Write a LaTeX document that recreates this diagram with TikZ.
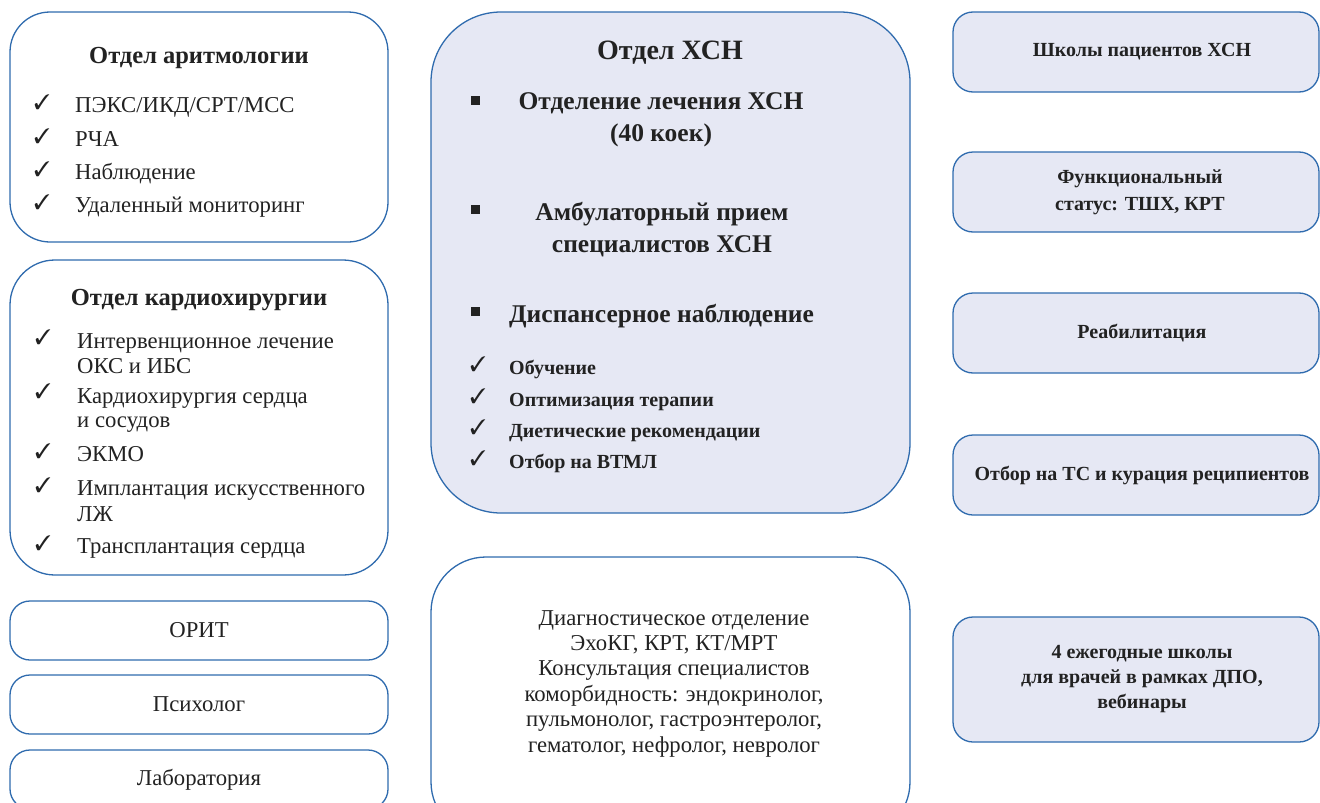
\documentclass[tikz,border=0pt]{standalone}
\usepackage{fontspec}
\setmainfont{Liberation Serif}
\usepackage{pifont}

\definecolor{boxblue}{HTML}{2F6BAE}
\definecolor{boxfill}{HTML}{E6E8F4}
\definecolor{ink}{HTML}{222222}

\tikzset{
  panel/.style={draw=boxblue, line width=1.3pt, fill=white, inner sep=0pt},
  xsnpanel/.style={panel, fill=boxfill},
  sidebox/.style={xsnpanel, rounded corners=20pt, minimum width=366pt, minimum height=80pt},
  sidetext/.style={inner sep=0pt, align=center, font=\fontsize{20}{27}\selectfont\bfseries},
  smallbox/.style={panel, rounded corners=20pt, minimum width=378pt, minimum height=59pt,
    font=\fontsize{22.7}{26}\selectfont},
  title/.style={anchor=base, inner sep=0pt, font=\fontsize{24.5}{28}\selectfont\bfseries},
  entry/.style={anchor=base west, inner sep=0pt, font=\fontsize{22.7}{26}\selectfont},
  xsnhead/.style={anchor=base, inner sep=0pt, align=center, font=\fontsize{25.5}{32}\selectfont\bfseries},
  xsnentry/.style={anchor=base west, inner sep=0pt, font=\fontsize{20}{24}\selectfont\bfseries},
  tick/.style={anchor=base west, inner sep=0pt, font=\fontsize{21}{21}\selectfont},
  sqbullet/.style={fill=ink, minimum size=9pt, inner sep=0pt}
}

\begin{document}
\begin{tikzpicture}[x={(1pt,0)}, y={(0,-1pt)}, text=ink]
 \clip (0,0) rectangle (1320,803);

 % left column
 \node[panel, rounded corners=40pt, minimum width=378pt, minimum height=230pt] (arit) at (199,127) {};
 \node[title] (arit-t) at (199,63) {Отдел аритмологии};
 \node[tick] (arit-c1) at (34,109) {\ding{51}};
 \node[entry] (arit-1) at (75,112) {ПЭКС/ИКД/СРТ/МСС};
 \node[tick] (arit-c2) at (34,143) {\ding{51}};
 \node[entry] (arit-2) at (75,146) {РЧА};
 \node[tick] (arit-c3) at (34,176) {\ding{51}};
 \node[entry] (arit-3) at (75,179) {Наблюдение};
 \node[tick] (arit-c4) at (34,209) {\ding{51}};
 \node[entry] (arit-4) at (75,212) {Удаленный мониторинг};

 \node[panel, rounded corners=45pt, minimum width=378pt, minimum height=315pt] (kardio) at (199,417.5) {};
 \node[title] (kardio-t) at (199,305) {Отдел кардиохирургии};
 \node[tick] (kardio-c1) at (35,344) {\ding{51}};
 \node[entry] (kardio-1a) at (77,348) {Интервенционное лечение};
 \node[entry] (kardio-1b) at (77,373) {ОКС и ИБС};
 \node[tick] (kardio-c2) at (35,398) {\ding{51}};
 \node[entry] (kardio-2a) at (77,403) {Кардиохирургия сердца};
 \node[entry] (kardio-2b) at (77,427) {и сосудов};
 \node[tick] (kardio-c3) at (35,458) {\ding{51}};
 \node[entry] (kardio-3) at (77,461) {ЭКМО};
 \node[tick] (kardio-c4) at (35,492) {\ding{51}};
 \node[entry] (kardio-4a) at (77,495) {Имплантация искусственного};
 \node[entry] (kardio-4b) at (77,521) {ЛЖ};
 \node[tick] (kardio-c5) at (35,550) {\ding{51}};
 \node[entry] (kardio-5) at (77,553) {Трансплантация сердца};

 \node[smallbox] (orit) at (199,630.5) {ОРИТ};
 \node[smallbox] (psych) at (199,704.5) {Психолог};
 \node[smallbox] (lab) at (199,779.5) {Лаборатория};

 % middle column
 \node[xsnpanel, rounded corners=70pt, minimum width=479pt, minimum height=501pt] (xsn) at (670.5,262.5) {};
 \node[xsnhead, font=\fontsize{28}{32}\selectfont\bfseries] (xsn-t) at (670,59) {Отдел ХСН};
 \node[sqbullet] (xsn-b1) at (475,100) {};
 \node[xsnhead] (xsn-1) at (661,141) {Отделение лечения ХСН\\(40 коек)};
 \node[sqbullet] (xsn-b2) at (475,209) {};
 \node[xsnhead] (xsn-2) at (662,252) {Амбулаторный прием\\специалистов ХСН};
 \node[sqbullet] (xsn-b3) at (475,311) {};
 \node[xsnhead, anchor=base west] (xsn-3) at (509,322) {Диспансерное наблюдение};
 \node[tick] (xsn-c1) at (470,371) {\ding{51}};
 \node[xsnentry] (xsn-31) at (509,374) {Обучение};
 \node[tick] (xsn-c2) at (470,403) {\ding{51}};
 \node[xsnentry] (xsn-32) at (509,406) {Оптимизация терапии};
 \node[tick] (xsn-c3) at (470,434) {\ding{51}};
 \node[xsnentry] (xsn-33) at (509,437) {Диетические рекомендации};
 \node[tick] (xsn-c4) at (470,465) {\ding{51}};
 \node[xsnentry] (xsn-34) at (509,468) {Отбор на ВТМЛ};

 \node[panel, rounded corners=55pt, minimum width=479pt, minimum height=280pt] (diag) at (670.5,697) {};
 \node[anchor=base, inner sep=0pt, align=center, font=\fontsize{22.7}{25.4}\selectfont] (diag-t) at (674,752)
   {Диагностическое отделение\\ЭхоКГ, КРТ, КТ/МРТ\\Консультация специалистов\\коморбидность: эндокринолог,\\пульмонолог, гастроэнтеролог,\\гематолог, нефролог, невролог};

 % right column
 \node[sidebox] (shkoly) at (1136,52) {};
 \node[sidetext] (shkoly-t) at (1142,52) {Школы пациентов ХСН};
 \node[sidebox] (funk) at (1136,192) {};
 \node[sidetext] (funk-t) at (1140,192) {Функциональный\\статус: ТШХ, КРТ};
 \node[sidebox] (reab) at (1136,333) {};
 \node[sidetext] (reab-t) at (1142,333) {Реабилитация};
 \node[sidebox] (ts) at (1136,475) {};
 \node[sidetext] (ts-t) at (1142,475) {Отбор на ТС и курация реципиентов};
 \node[sidebox, minimum height=125pt] (vrach) at (1136,679.5) {};
 \node[sidetext, font=\fontsize{20}{25}\selectfont\bfseries] (vrach-t) at (1142,679.5) {4 ежегодные школы\\для врачей в рамках ДПО,\\вебинары};
\end{tikzpicture}
\end{document}
